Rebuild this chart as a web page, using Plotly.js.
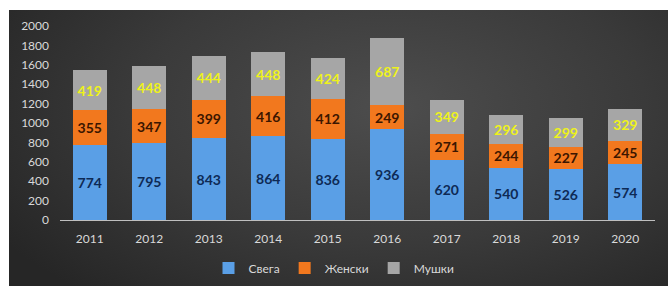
<!DOCTYPE html>
<html><head><meta charset="utf-8">
<script src="https://cdn.plot.ly/plotly-3.0.1.min.js"></script>
<style>
html,body{margin:0;padding:0;background:#fff;width:668px;height:286px;overflow:hidden;}
#bg{position:absolute;left:9px;top:10px;width:659px;height:276px;
background:radial-gradient(ellipse 70% 90% at 58% 35%, #4d4d4d 0%, #3a3a3a 55%, #262626 100%);}
#chart{position:absolute;left:0;top:0;width:668px;height:286px;}
</style></head>
<body><div id="bg"></div><div id="chart"></div>
<script>
const years = ['2011','2012','2013','2014','2015','2016','2017','2018','2019','2020'];
const svega = [774, 795, 843, 864, 836, 936, 620, 540, 526, 574];
const zhenski = [355, 347, 399, 416, 412, 249, 271, 244, 227, 245];
const mushki = [419, 448, 444, 448, 424, 687, 349, 296, 299, 329];
const yTicks = [0,200,400,600,800,1000,1200,1400,1600,1800,2000];

function tr(name, vals, color, txtColor){
  return {type:'bar', name:name, x:years, y:vals, text:vals.map(String),
    textposition:'inside', insidetextanchor:'middle', textangle:0,
    constraintext:'none', cliponaxis:false,
    insidetextfont:{family:'Lato, "Open Sans", sans-serif', size:14, color:txtColor, weight:'bold'},
    marker:{color:color, line:{width:0}}, hoverinfo:'skip'};
}
const data = [
  tr('Свега', svega, '#5a9fe6', '#0e2a55'),
  tr('Женски', zhenski, '#f2781e', '#3b1600'),
  tr('Мушки', mushki, '#a6a6a6', '#eef21a')
];
const layout = {
  width:668, height:286, margin:{l:60, r:13, t:26, b:66, autoexpand:false},
  paper_bgcolor:'rgba(0,0,0,0)', plot_bgcolor:'rgba(0,0,0,0)',
  barmode:'stack', bargap:0.43, showlegend:true,
  font:{family:'Lato, "Open Sans", sans-serif', color:'#d9d9d9', size:12},
  xaxis:{type:'category', showgrid:false, showline:true, linecolor:'#bfbfbf', linewidth:1,
    ticks:'', ticklabelstandoff:8, tickfont:{size:12, color:'#d9d9d9'}, fixedrange:true, automargin:false},
  yaxis:{range:[0,2000], tickvals:yTicks, showgrid:false, zeroline:false, showline:false,
    ticks:'', ticklabelstandoff:10, tickfont:{size:12, color:'#d9d9d9'}, fixedrange:true, automargin:false},
  legend:{orientation:'h', x:0.5, xref:'container', xanchor:'center', y:0.063, yref:'container', yanchor:'middle',
    font:{size:12, color:'#d9d9d9'}, bgcolor:'rgba(0,0,0,0)', itemwidth:30, traceorder:'normal'}
};
Plotly.newPlot('chart', data, layout, {displayModeBar:false, staticPlot:true});
</script></body></html>
